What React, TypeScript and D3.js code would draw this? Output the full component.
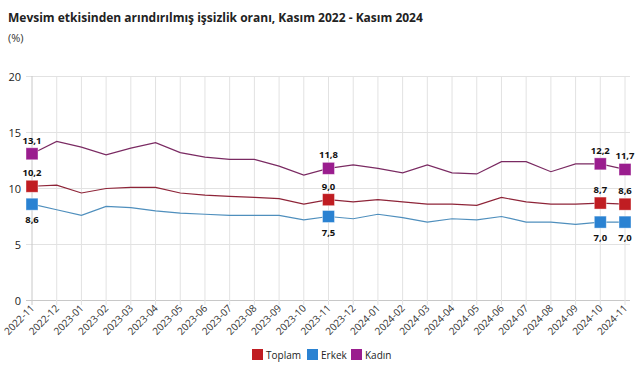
import React from "react";
import * as d3 from "d3";

const months = [
  "2022-11","2022-12","2023-01","2023-02","2023-03","2023-04","2023-05","2023-06","2023-07","2023-08","2023-09","2023-10","2023-11","2023-12",
  "2024-01","2024-02","2024-03","2024-04","2024-05","2024-06","2024-07","2024-08","2024-09","2024-10","2024-11",
];
const toplam = [10.2,10.3,9.6,10.0,10.1,10.1,9.6,9.4,9.3,9.2,9.1,8.6,9.0,8.8,9.0,8.8,8.6,8.6,8.5,9.2,8.8,8.6,8.6,8.7,8.6];
const erkek = [8.6,8.1,7.6,8.4,8.3,8.0,7.8,7.7,7.6,7.6,7.6,7.2,7.5,7.3,7.7,7.4,7.0,7.3,7.2,7.5,7.0,7.0,6.8,7.0,7.0];
const kadin = [13.1,14.2,13.7,13.0,13.6,14.1,13.2,12.8,12.6,12.6,12.0,11.2,11.8,12.1,11.8,11.4,12.1,11.4,11.3,12.4,12.4,11.5,12.2,12.2,11.7];
const yTicks = [0, 5, 10, 15, 20];
const labeledIdx = [0, 12, 23, 24];

const seriesList = [
  { name: "Toplam", values: toplam, line: "#8e2438", marker: "#c01d22", labelPos: "above" },
  { name: "Erkek", values: erkek, line: "#4f8fbd", marker: "#2a82d2", labelPos: "below" },
  { name: "Kadın", values: kadin, line: "#7a2a62", marker: "#9a1d8e", labelPos: "above" },
];

const FONT = "'Open Sans', 'Noto Sans', sans-serif";

export default function App() {
  const W = 641, H = 380;
  const x = d3.scalePoint<string>().domain(months).range([32, 625]);
  const y = d3.scaleLinear().domain([0, 20]).range([300.5, 76.5]);
  const fmt = (v: number) => v.toFixed(1).replace(".", ",");
  const drawOrder = [seriesList[1], seriesList[0], seriesList[2]];
  return (
    <svg width={W} height={H} style={{ position: "absolute", left: 0, top: 0, background: "#fff" }} fontFamily={FONT}>
      <text x={8} y={22} fontSize={12} fontWeight={700} fill="#222">
        Mevsim etkisinden arındırılmış işsizlik oranı, Kasım 2022 - Kasım 2024
      </text>
      <text x={8} y={42} fontSize={11} fill="#333">(%)</text>
      {yTicks.map((t) => (
        <g key={t}>
          <line x1={26} x2={630} y1={y(t)} y2={y(t)} stroke={t === 0 ? "#c8c8c8" : "#e2e2e2"} strokeWidth={1} />
          <text x={21} y={y(t) + 4} fontSize={11} textAnchor="end" fill="#222">{t}</text>
        </g>
      ))}
      {months.map((m, i) => (
        <g key={m}>
          <line x1={x(m)!} x2={x(m)!} y1={76} y2={305} stroke={i === 0 ? "#c8c8c8" : "#e2e2e2"} strokeWidth={1} />
          <text
            transform={`translate(${x(m)! + 3},${309}) rotate(-45)`}
            fontSize={10}
            textAnchor="end"
            fill="#333"
          >
            {m}
          </text>
        </g>
      ))}
      {drawOrder.map((s) => {
        const line = d3.line<number>().x((_, i) => x(months[i])!).y((v) => y(v));
        return (
          <g key={s.name}>
            <path d={line(s.values)!} fill="none" stroke={s.line} strokeWidth={1.2} />
            {labeledIdx.map((i) => {
              const cx = x(months[i])!;
              const cy = y(s.values[i]);
              return (
                <g key={i}>
                  <rect x={cx - 6} y={cy - 6} width={12} height={12} fill={s.marker} stroke="#fff" strokeOpacity={0.5} strokeWidth={0.8} />
                  <text
                    x={cx}
                    y={s.labelPos === "above" ? cy - 10 : cy + 19}
                    fontSize={9.5}
                    fontWeight={700}
                    textAnchor="middle"
                    fill="#111"
                  >
                    {fmt(s.values[i])}
                  </text>
                </g>
              );
            })}
          </g>
        );
      })}
      {seriesList.map((s, k) => {
        const xs = [252, 307, 351][k];
        return (
          <g key={s.name}>
            <rect x={xs} y={349} width={11} height={11} fill={s.marker} />
            <text x={xs + 14} y={358.5} fontSize={10} fill="#222">{s.name}</text>
          </g>
        );
      })}
    </svg>
  );
}
